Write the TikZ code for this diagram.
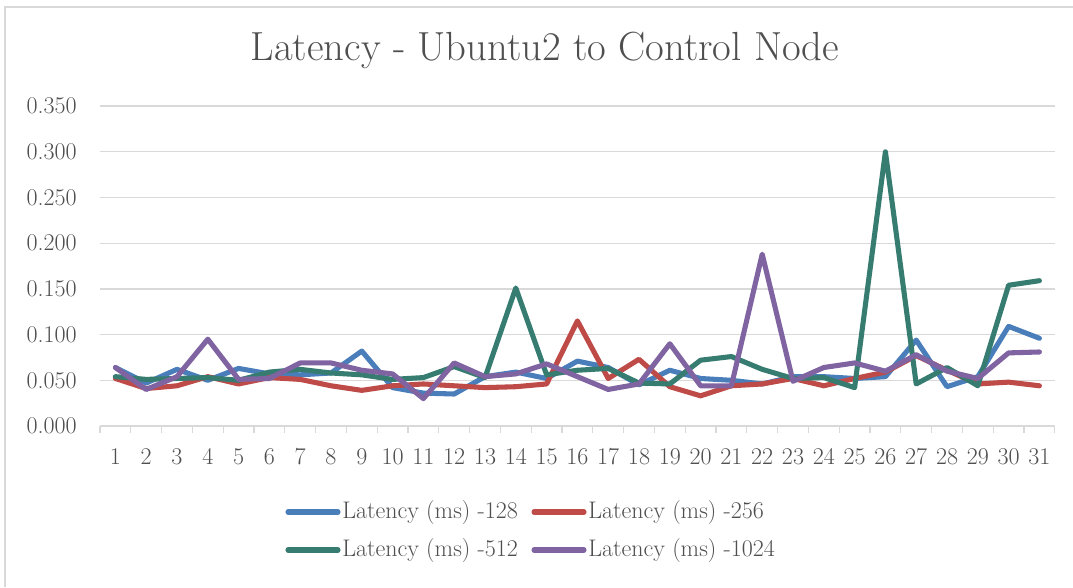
\documentclass[tikz,border=0pt]{standalone}
\usepackage{tikz}
\usetikzlibrary{calc}

\definecolor{txtgray}{HTML}{4F4F4F}
\definecolor{gridgray}{HTML}{D9D9D9}
\definecolor{lat128}{HTML}{4A7EBB}
\definecolor{lat256}{HTML}{BE4B48}
\definecolor{lat512}{HTML}{377C71}
\definecolor{lat1024}{HTML}{8064A2}

\tikzset{
  gridline/.style={gridgray, line width=1pt},
  series/.style={line width=3.8pt, line join=round, line cap=round},
  lbl/.style={text=txtgray, font=\fontsize{18}{21}\selectfont, inner sep=0pt}
}

\begin{document}
\begin{tikzpicture}[x=0.75pt, y=-0.75pt]
\useasboundingbox (0,0) rectangle (1073,587);
\fill[white] (0,0) rectangle (1073,587);
\draw[gridgray, line width=1.2pt] (5,587) -- (5,7) -- (1073,7);

\node[text=txtgray, font=\fontsize{30.5}{34}\selectfont, inner sep=0pt] (title) at (545,50) {Latency - Ubuntu2 to Control Node};

% chart area: x = category index, y = latency
\begin{scope}[shift={(84.6,426)}, x=23.1pt, y=685.5pt]
\foreach \v/\t in {0/0.000, 0.05/0.050, 0.1/0.100, 0.15/0.150, 0.2/0.200, 0.25/0.250, 0.3/0.300, 0.35/0.350} {
  \draw[gridline] (0.5,\v) -- (31.5,\v);
  \node[lbl, anchor=east] (ylab\t) at (-0.25,\v) {\t};
}
\foreach \i in {0,...,31} \draw[gridline] (\i+0.5,0) -- ++(0pt,-5.5pt);
\foreach \i in {1,...,31} \node[lbl, anchor=north] (xlab\i) at ($(\i,0)+(0pt,-16.5pt)$) {\i};

\draw[series, lat128] plot coordinates {(1,0.064) (2,0.047) (3,0.062) (4,0.050) (5,0.063) (6,0.057) (7,0.056) (8,0.058) (9,0.082) (10,0.042) (11,0.036) (12,0.035) (13,0.054) (14,0.059) (15,0.052) (16,0.071) (17,0.064) (18,0.045) (19,0.061) (20,0.052) (21,0.050) (22,0.046) (23,0.054) (24,0.054) (25,0.052) (26,0.054) (27,0.094) (28,0.043) (29,0.054) (30,0.109) (31,0.096)};
\draw[series, lat256] plot coordinates {(1,0.052) (2,0.041) (3,0.044) (4,0.054) (5,0.046) (6,0.053) (7,0.051) (8,0.044) (9,0.039) (10,0.044) (11,0.046) (12,0.044) (13,0.042) (14,0.043) (15,0.046) (16,0.115) (17,0.052) (18,0.073) (19,0.043) (20,0.033) (21,0.044) (22,0.046) (23,0.052) (24,0.044) (25,0.052) (26,0.059) (27,0.077) (28,0.061) (29,0.046) (30,0.048) (31,0.044)};
\draw[series, lat512] plot coordinates {(1,0.054) (2,0.051) (3,0.052) (4,0.053) (5,0.050) (6,0.059) (7,0.062) (8,0.058) (9,0.056) (10,0.051) (11,0.053) (12,0.065) (13,0.053) (14,0.151) (15,0.056) (16,0.061) (17,0.063) (18,0.047) (19,0.046) (20,0.072) (21,0.076) (22,0.062) (23,0.052) (24,0.053) (25,0.042) (26,0.300) (27,0.046) (28,0.064) (29,0.044) (30,0.154) (31,0.159)};
\draw[series, lat1024] plot coordinates {(1,0.064) (2,0.040) (3,0.054) (4,0.095) (5,0.051) (6,0.052) (7,0.069) (8,0.069) (9,0.061) (10,0.057) (11,0.030) (12,0.069) (13,0.054) (14,0.057) (15,0.068) (16,0.054) (17,0.040) (18,0.046) (19,0.090) (20,0.044) (21,0.044) (22,0.188) (23,0.049) (24,0.064) (25,0.069) (26,0.060) (27,0.078) (28,0.060) (29,0.052) (30,0.080) (31,0.081)};
\end{scope}

% legend
\foreach \s/\lx/\ly in {128/288/512, 256/534/512, 512/288/550, 1024/534/550} {
  \coordinate (leg\s a) at (\lx,\ly);
  \coordinate (leg\s b) at (\lx+50,\ly);
  \draw[series, lat\s] (leg\s a) -- (leg\s b);
  \node[lbl, anchor=west] (leg\s) at ($(leg\s b)+(3pt,0)$) {Latency (ms) -\s};
}

\end{tikzpicture}
\end{document}
